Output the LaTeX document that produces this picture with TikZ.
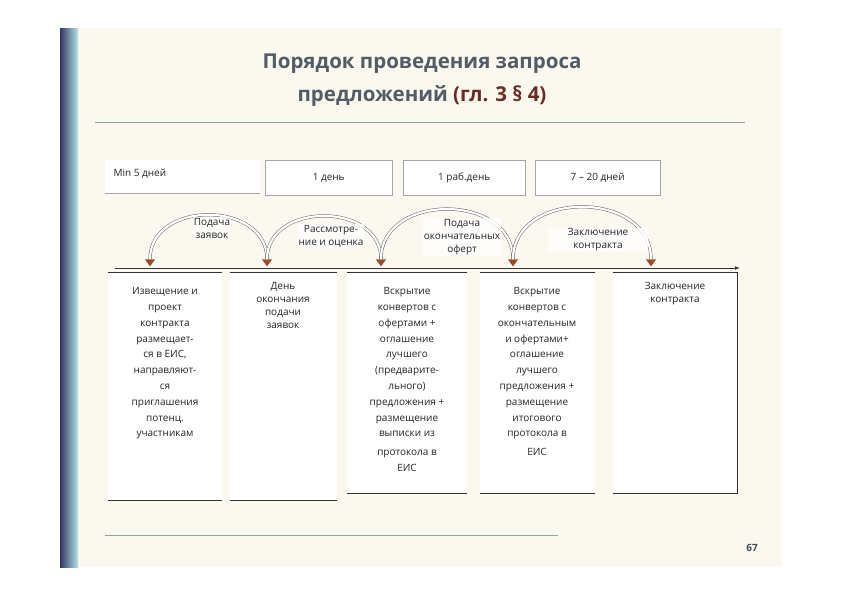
\documentclass[tikz,border=0pt]{standalone}
\usepackage{fontspec}
\setmainfont{Open Sans}
\usetikzlibrary{shapes.geometric,arrows.meta}
\definecolor{bg}{HTML}{FBF9EF}
\definecolor{ttl}{HTML}{3E4A55}
\definecolor{ttlred}{HTML}{6B2A22}
\definecolor{grn}{HTML}{8FA89A}
\definecolor{tri}{HTML}{9A4A2A}
\begin{document}
\begin{tikzpicture}[x=1pt,y=-1pt,
  box/.style={fill=white,draw=gray!70,line width=0.4pt,anchor=north west,inner sep=0pt},
  btxt/.style={font=\fontsize{10}{15.8}\selectfont,align=center,anchor=north,text=black!85},
  ttxt/.style={font=\fontsize{10}{12}\selectfont,text=black!85},
  atxt/.style={font=\fontsize{10}{13}\selectfont,align=center,fill=white,fill opacity=0.8,text opacity=1,inner sep=1pt,text=black!85},
  tr/.style={isosceles triangle,shape border rotate=270,fill=tri,minimum width=10pt,minimum height=7pt,inner sep=0pt,isosceles triangle stretches},
  arcl/.style={double=white,draw=gray!80!black,double distance=2.2pt,line width=0.5pt}]
\useasboundingbox (0,0) rectangle (842,595);
\fill[white] (0,0) rectangle (842,595);
\fill[bg] (60,28) rectangle (782,567);
\shade[left color=gray!70!blue!60!black,right color=gray!50!cyan!40] (60,28) rectangle (78,567);
\node[font=\fontsize{20.5}{33}\selectfont\bfseries,text=ttl!90,align=center] (title) at (422,80) {Порядок проведения запроса\\предложений \textcolor{ttlred}{(гл. 3 § 4)}};
\draw[grn,line width=0.6pt] (95,122) -- (745,122);
% top boxes
\node[box,minimum width=155pt,minimum height=33pt,draw=none] (b1) at (105,160) {};
\draw[gray!70] (b1.south west) -- (b1.south east);
\node[ttxt,anchor=north west] at (110,165) {Min 5 дней};
\node[box,minimum width=127pt,minimum height=35pt] (b2) at (265,160) {};
\node[ttxt] at (b2.center) {1 день};
\node[box,minimum width=122pt,minimum height=35pt] (b3) at (403,160) {};
\node[ttxt] at (b3.center) {1 раб.день};
\node[box,minimum width=125pt,minimum height=35pt] (b4) at (535,160) {};
\node[ttxt] at (b4.center) {7 – 20 дней};
% triangles
\node[tr] (t1) at (150,262) {};
\node[tr] (t2) at (267,262) {};
\node[tr] (t3) at (381,262) {};
\node[tr] (t4) at (513,262) {};
\node[tr] (t5) at (651,262) {};
% arcs
\foreach \a/\b in {t1/t2,t2/t3,t3/t4,t4/t5}
  \draw[arcl] (\a.north) to[out=90,in=90,looseness=1.3] (\b.north);
% arc labels
\node[atxt] (l1) at (212,228) {Подача\\заявок};
\node[atxt] (l2) at (331,236) {Рассмотре-\\ние и оценка};
\node[atxt] (l3) at (462,237) {Подача\\окончательных\\оферт};
\node[atxt,minimum width=100pt] (l4) at (598,240) {Заключение\\контракта};
% timeline
\coordinate (s) at (115,268);
\coordinate (e) at (740,268);
\draw[-{Latex[length=5pt]},line width=0.8pt,black!80] (s) -- (e);
% bottom boxes
\node[box,draw=none,minimum width=114pt,minimum height=228pt] (c1) at (108,272) {};
\draw[black!80] (c1.north west)--(c1.north east) (c1.south west)--(c1.south east);
\node[btxt] at (165,284) {Извещение и\\проект\\контракта\\размещает-\\ся в ЕИС,\\направляют-\\ся\\приглашения\\потенц.\\участникам};
\node[box,draw=none,minimum width=107pt,minimum height=228pt] (c2) at (230,272) {};
\draw[black!80] (c2.north west)--(c2.north east) (c2.south west)--(c2.south east);
\node[btxt,font=\fontsize{10}{13}\selectfont] at (283,279) {День\\окончания\\подачи\\заявок};
\node[box,draw=none,minimum width=120pt,minimum height=221pt] (c3) at (347,272) {};
\draw[black!80] (c3.north west)--(c3.north east) (c3.south west)--(c3.south east);
\node[btxt] at (407,284) {Вскрытие\\конвертов с\\офертами +\\оглашение\\лучшего\\(предварите-\\льного)\\предложения +\\размещение\\выписки из\\[3pt]протокола в\\ЕИС};
\node[box,draw=none,minimum width=115pt,minimum height=221pt] (c4) at (480,272) {};
\draw[black!80] (c4.north west)--(c4.north east) (c4.south west)--(c4.south east);
\node[btxt] at (537,284) {Вскрытие\\конвертов с\\окончательным\\и офертами+\\оглашение\\лучшего\\предложения +\\размещение\\итогового\\протокола в\\[3pt]ЕИС};
\node[box,draw=none,minimum width=124pt,minimum height=221pt] (c5) at (613,272) {};
\draw[black!80] (c5.north west)--(c5.north east)--(c5.south east)--(c5.south west);
\node[btxt,font=\fontsize{10}{13}\selectfont] at (675,279) {Заключение\\контракта};
\draw[grn,line width=0.6pt] (105,535) -- (558,535);
\node[font=\fontsize{10}{12}\selectfont\bfseries,text=ttl] (pg) at (752,548) {67};
\end{tikzpicture}
\end{document}
